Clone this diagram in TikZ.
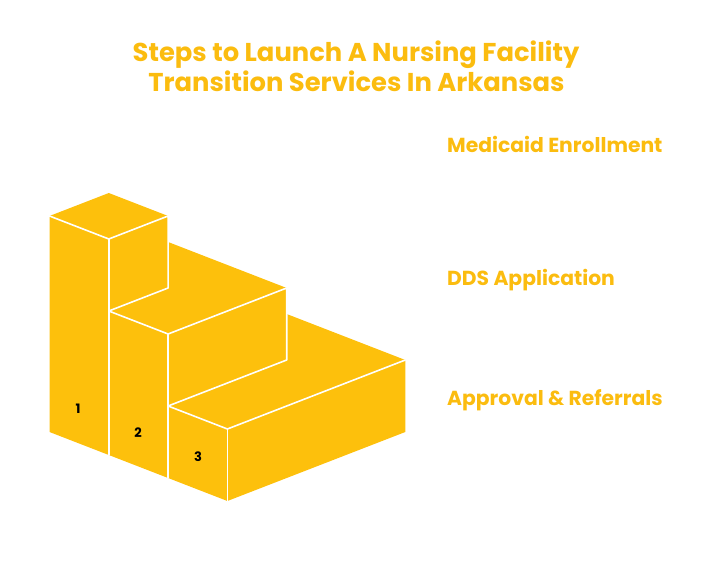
\documentclass[tikz,border=0pt]{standalone}
\usepackage{fontspec}
\setmainfont{Poppins}
\definecolor{stairyellow}{HTML}{FDC00C}
\definecolor{titleyellow}{HTML}{FBBC0F}
\newcommand\isocorner[4]{\coordinate (#1) at ({49.5+59.3*(#2)+59.3*(#3)},{432+23*(#2)-23*(#3)-72*(#4)});}
\begin{document}
\begin{tikzpicture}[x=1pt,y=-1pt,
  edge/.style={draw=white,line width=1.6pt,line join=round,line cap=round},
  title/.style={text=titleyellow,font=\bfseries\fontsize{25.8}{30}\selectfont,anchor=base,inner sep=0pt},
  heading/.style={text=titleyellow,font=\bfseries\fontsize{20.3}{24}\selectfont,anchor=base west,inner sep=0pt},
  stepnum/.style={font=\bfseries\fontsize{13}{15}\selectfont,text=black,inner sep=0pt}]
\useasboundingbox (0,0) rectangle (720,564);
% named corners
\isocorner{a000}{0}{0}{0}
\isocorner{a300}{3}{0}{0}
\isocorner{a330}{3}{3}{0}
\isocorner{a331}{3}{3}{1}
\isocorner{a131}{1}{3}{1}
\isocorner{a222}{2}{2}{2}
\isocorner{a022}{0}{2}{2}
\isocorner{a113}{1}{1}{3}
\isocorner{a013}{0}{1}{3}
\isocorner{a003}{0}{0}{3}
\isocorner{a103}{1}{0}{3}
\isocorner{a100}{1}{0}{0}
\isocorner{a112}{1}{1}{2}
\isocorner{a102}{1}{0}{2}
\isocorner{a202}{2}{0}{2}
\isocorner{a200}{2}{0}{0}
\isocorner{a221}{2}{2}{1}
\isocorner{a201}{2}{0}{1}
\isocorner{a301}{3}{0}{1}
% silhouette
\fill[stairyellow] (a000) -- (a300) -- (a330) -- (a331) -- (a131) -- (a222) -- (a022) -- (a113) -- (a013) -- (a003) -- cycle;
% inner edges
\draw[edge] (a003) -- (a103) -- (a113) -- (a112) -- (a102);
\draw[edge] (a103) -- (a100);
\draw[edge] (a102) -- (a202) -- (a222) -- (a221) -- (a201);
\draw[edge] (a202) -- (a200);
\draw[edge] (a201) -- (a301) -- (a331);
\draw[edge] (a301) -- (a300);
% step numbers
\node[stepnum] (n1) at (78,409) {1};
\node[stepnum] (n2) at (138,433) {2};
\node[stepnum] (n3) at (198,457) {3};
% title
\node[title] (t1) at (356,62) {Steps to Launch A Nursing Facility};
\node[title] (t2) at (356.5,92) {Transition Services In Arkansas};
% headings
\node[heading] (h1) at (447,153) {Medicaid Enrollment};
\node[heading] (h2) at (447,285) {DDS Application};
\node[heading] (h3) at (447,405) {Approval \& Referrals};
\end{tikzpicture}
\end{document}
